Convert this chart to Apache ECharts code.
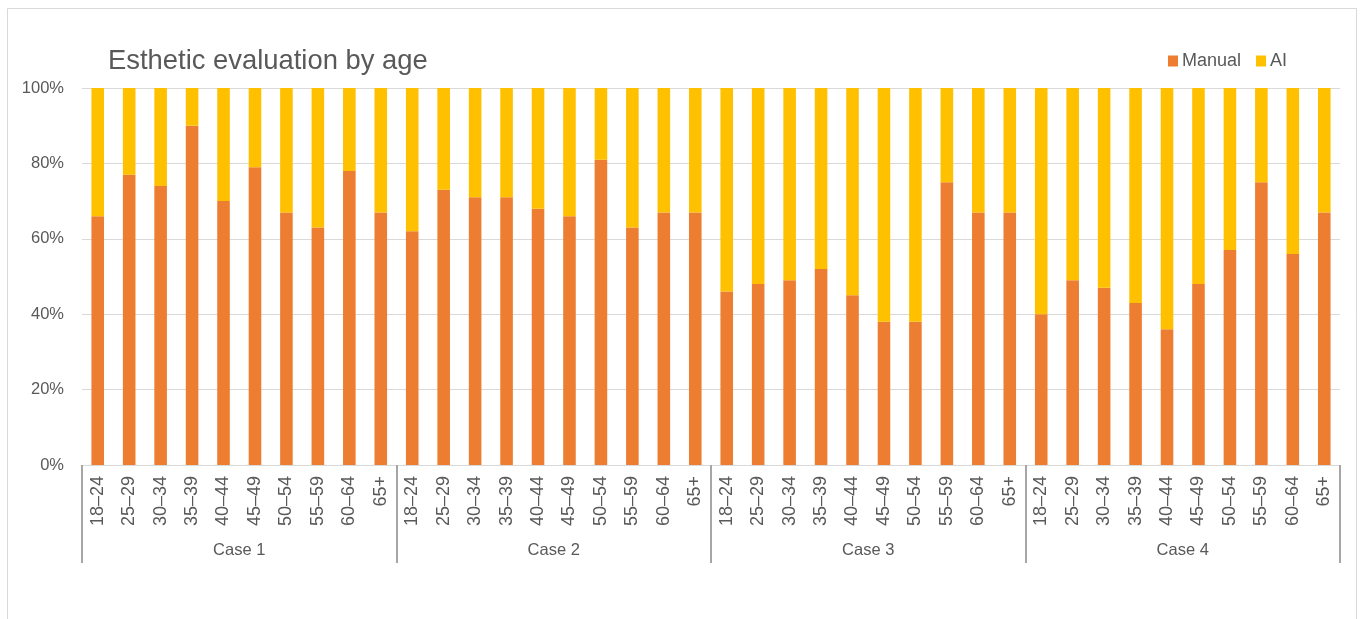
<!DOCTYPE html>
<html>
<head>
<meta charset="utf-8">
<title>Esthetic evaluation by age</title>
<script src="https://cdn.jsdelivr.net/npm/echarts@6/dist/echarts.min.js"></script>
<style>
  html, body { margin: 0; padding: 0; background: #ffffff; }
  #chart { width: 1370px; height: 619px; }
</style>
</head>
<body>
<div id="chart"></div>
<script>
// Age bands repeated within each case
const ageGroups = ['18\u201324', '25\u201329', '30\u201334', '35\u201339', '40\u201344',
                   '45\u201349', '50\u201354', '55\u201359', '60\u201364', '65+'];
const cases = ['Case 1', 'Case 2', 'Case 3', 'Case 4'];

// Share of votes (%) per age band, case by case
const manualCase1 = [66, 77, 74, 90, 70, 79, 67, 63, 78, 67];
const manualCase2 = [62, 73, 71, 71, 68, 66, 81, 63, 67, 67];
const manualCase3 = [46, 48, 49, 52, 45, 38, 38, 75, 67, 67];
const manualCase4 = [40, 49, 47, 43, 36, 48, 57, 75, 56, 67];

const aiCase1 = [34, 23, 26, 10, 30, 21, 33, 37, 22, 33];
const aiCase2 = [38, 27, 29, 29, 32, 34, 19, 37, 33, 33];
const aiCase3 = [54, 52, 51, 48, 55, 62, 62, 25, 33, 33];
const aiCase4 = [60, 51, 53, 57, 64, 52, 43, 25, 44, 33];

const yTicks = [0, 20, 40, 60, 80, 100];

// Flatten into one category per (case, age band)
const categories = [];
cases.forEach(() => ageGroups.forEach(a => categories.push(a)));
const manual = [].concat(manualCase1, manualCase2, manualCase3, manualCase4);
const ai = [].concat(aiCase1, aiCase2, aiCase3, aiCase4);

const FONT = 'Liberation Sans';
const TEXT = '#595959';

const chart = echarts.init(document.getElementById('chart'), null, { renderer: 'canvas' });

chart.setOption({
  animation: false,
  backgroundColor: '#ffffff',
  textStyle: { fontFamily: FONT },
  title: {
    text: 'Esthetic evaluation by age',
    left: 103,
    top: 43,
    textStyle: { fontFamily: FONT, fontSize: 27.4, fontWeight: 'normal', color: TEXT }
  },
  legend: {
    data: ['Manual', 'AI'],
    left: 1163,
    top: 47,
    icon: 'rect',
    itemWidth: 10,
    itemHeight: 11,
    itemGap: 15,
    textStyle: { fontFamily: FONT, fontSize: 18, color: TEXT, padding: [0, 0, 0, -1] }
  },
  graphic: [{
    type: 'rect',
    shape: { x: 7.5, y: 8.5, width: 1349, height: 640 },
    style: { fill: 'none', stroke: '#d9d9d9', lineWidth: 1 },
    silent: true
  }],
  grid: { left: 82, right: 30, top: 88, bottom: 154, containLabel: false },
  xAxis: [{
    type: 'category',
    data: categories,
    axisLine: { show: false },
    axisTick: { show: false },
    axisLabel: {
      interval: 0,
      rotate: 90,
      margin: 11,
      fontFamily: FONT,
      fontSize: 18,
      color: TEXT
    }
  }, {
    type: 'category',
    data: cases,
    position: 'bottom',
    axisLine: { show: false },
    axisTick: {
      show: true,
      length: 98,
      lineStyle: { color: '#a6a6a6', width: 2 }
    },
    axisLabel: {
      interval: 0,
      margin: 77,
      fontFamily: FONT,
      fontSize: 16.5,
      color: TEXT
    },
    splitLine: { show: false }
  }],
  yAxis: {
    type: 'value',
    min: yTicks[0],
    max: yTicks[yTicks.length - 1],
    interval: 20,
    axisLine: { show: false },
    axisTick: { show: false },
    axisLabel: {
      margin: 18,
      formatter: '{value}%',
      fontFamily: FONT,
      fontSize: 16.5,
      color: TEXT
    },
    splitLine: { lineStyle: { color: '#d9d9d9', width: 1 } }
  },
  series: [{
    name: 'Manual',
    type: 'bar',
    stack: 'share',
    xAxisIndex: 0,
    barWidth: '40%',
    itemStyle: { color: '#ED7D31' },
    data: manual
  }, {
    name: 'AI',
    type: 'bar',
    stack: 'share',
    xAxisIndex: 0,
    barWidth: '40%',
    itemStyle: { color: '#FFC000' },
    data: ai
  }]
});
</script>
</body>
</html>
